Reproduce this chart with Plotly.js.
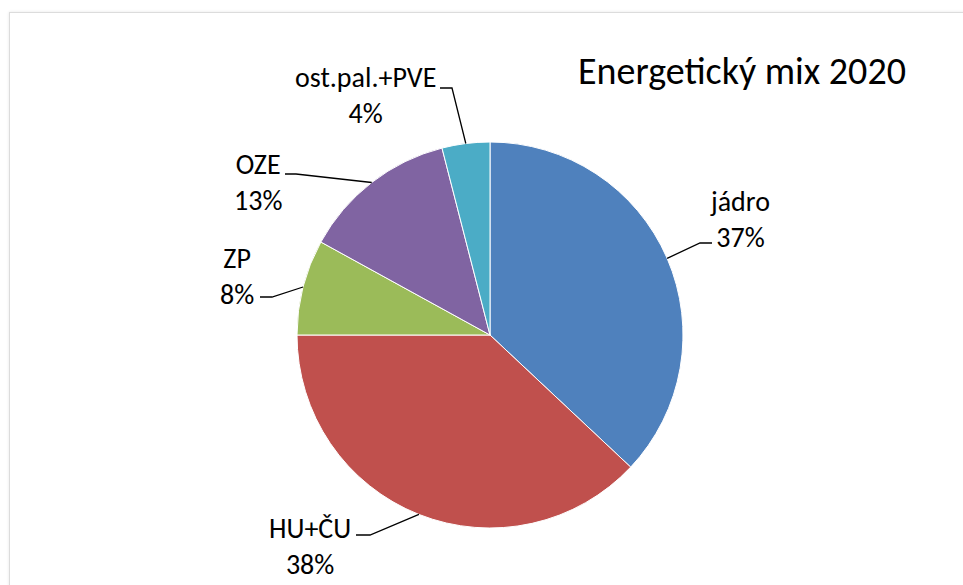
<!DOCTYPE html>
<html><head><meta charset="utf-8">
<script src="https://cdn.plot.ly/plotly-3.0.1.min.js"></script>
<style>
html,body{margin:0;padding:0;background:#fff;overflow:hidden;}
#frame{position:absolute;left:9px;top:12px;width:1200px;height:800px;border:1px solid #dcdcdc;box-shadow:0 0 3px rgba(0,0,0,0.10);}
#chart{position:absolute;left:0;top:0;width:963px;height:585px;}
</style></head><body>
<div id="frame"></div><div id="chart"></div>
<script>
// ---- data ----
const categories = ['jádro', 'HU+ČU', 'ZP', 'OZE', 'ost.pal.+PVE'];
const shares = [37, 38, 8, 13, 4];
const chartTitle = 'Energetický mix 2020';

// ---- style / layout ----
const colors = ['#4F81BD', '#C0504D', '#9BBB59', '#8064A2', '#4BACC6'];
const W = 963, H = 585;
const cx = 490, cy = 335, R = 193;
const FONT = 'Carlito, "Liberation Sans Narrow", "DejaVu Sans Condensed", sans-serif';
// label placement (elbow of leader line, end of horizontal segment, text centre), in pixels
const labelLayout = [
  {elbow: [700, 243], end: [712, 243], text: [740, 219]},
  {elbow: [370, 535], end: [356, 535], text: [310, 546]},
  {elbow: [272, 297], end: [260, 297], text: [237, 276]},
  {elbow: [296, 174], end: [285, 174], text: [258, 182]},
  {elbow: [452, 88],  end: [440, 88],  text: [365, 96]}
];

const px = x => x / W;
const py = y => 1 - y / H;

const total = shares.reduce((a, b) => a + b, 0);
let cum = 0;
const shapes = [], annotations = [];
shares.forEach((v, i) => {
  const mid = (cum + v / 2) / total * 2 * Math.PI;
  cum += v;
  const ex = cx + R * Math.sin(mid), ey = cy - R * Math.cos(mid);
  const L = labelLayout[i];
  shapes.push({
    type: 'path', xref: 'paper', yref: 'paper',
    path: `M${px(ex)},${py(ey)} L${px(L.elbow[0])},${py(L.elbow[1])} L${px(L.end[0])},${py(L.end[1])}`,
    line: {color: '#000', width: 1.3}
  });
  annotations.push({
    xref: 'paper', yref: 'paper', x: px(L.text[0]), y: py(L.text[1]),
    xanchor: 'center', yanchor: 'middle', showarrow: false, align: 'center',
    text: `${categories[i]}<br>${Math.round(v / total * 100)}%`,
    font: {family: FONT, size: 28, color: '#000'}
  });
});

const trace = {
  type: 'pie', values: shares, labels: categories, sort: false,
  direction: 'clockwise', rotation: 0, textinfo: 'none', hoverinfo: 'skip',
  marker: {colors: colors, line: {color: '#fff', width: 1}},
  domain: {x: [px(cx - R), px(cx + R)], y: [py(cy + R), py(cy - R)]},
  showlegend: false
};

const layout = {
  width: W, height: H, margin: {l: 0, r: 0, t: 0, b: 0},
  paper_bgcolor: 'rgba(0,0,0,0)', plot_bgcolor: 'rgba(0,0,0,0)',
  title: {text: chartTitle, x: px(578), xanchor: 'left', xref: 'paper',
          y: py(71), yanchor: 'middle', yref: 'paper',
          font: {family: FONT, size: 38, color: '#000'}},
  shapes: shapes, annotations: annotations, showlegend: false
};

Plotly.newPlot('chart', [trace], layout, {displayModeBar: false, staticPlot: true});
</script>
</body></html>
